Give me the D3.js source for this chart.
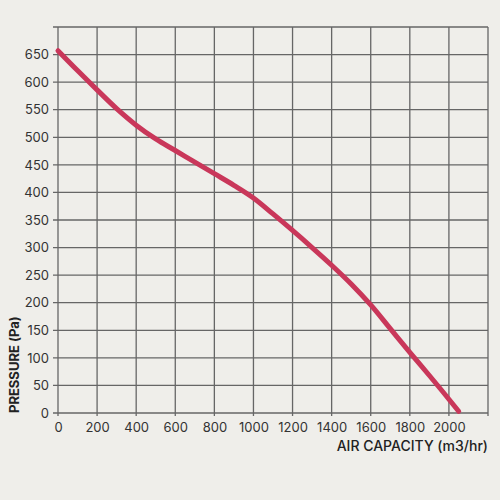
<!DOCTYPE html>
<html>
<head>
<meta charset="utf-8">
<script src="https://cdn.jsdelivr.net/npm/d3@7"></script>
<style>
  body { margin: 0; background: #efeeea; }
  svg { display: block; font-family: Inter, "Open Sans", sans-serif; }
</style>
</head>
<body>
<script>
var airCapacity = [0, 100, 200, 300, 400, 500, 600, 700, 800, 900, 1000, 1100, 1200, 1300, 1400, 1500, 1600, 1700, 1800, 1900, 2000, 2050];
var pressure = [657, 621, 586, 552, 522, 497, 476, 455, 434, 413, 390, 361, 331, 300, 268, 234, 196, 153, 110, 68, 25, 3];
var xTicks = [0, 200, 400, 600, 800, 1000, 1200, 1400, 1600, 1800, 2000];
var yTicks = [0, 50, 100, 150, 200, 250, 300, 350, 400, 450, 500, 550, 600, 650];

var margin = {left: 58, top: 27, right: 12, bottom: 87};
var width = 500 - margin.left - margin.right,
	height = 500 - margin.top - margin.bottom;

var svg = d3.select("body")
		.append("svg")
		.attr("width", 500)
		.attr("height", 500);

var g = svg.append("g")
		.attr("transform", "translate(" + margin.left + "," + margin.top + ")");

var x = d3.scaleLinear().domain([0, 2200]).range([0, width]);
var y = d3.scaleLinear().domain([0, 700]).range([height, 0]);

// grid
g.append("g")
		.selectAll("line")
		.data(x.ticks(11))
		.enter().append("line")
		.attr("x1", function(d) { return x(d); })
		.attr("x2", function(d) { return x(d); })
		.attr("y1", 0)
		.attr("y2", height + 3)
		.attr("stroke", "#666")
		.attr("stroke-width", 1.3);

g.append("g")
		.selectAll("line")
		.data(d3.range(0, 750, 50))
		.enter().append("line")
		.attr("x1", -5)
		.attr("x2", width)
		.attr("y1", function(d) { return y(d); })
		.attr("y2", function(d) { return y(d); })
		.attr("stroke", "#666")
		.attr("stroke-width", 1.3);

// tick labels via axes
var xAxis = g.append("g")
		.attr("transform", "translate(0," + height + ")")
		.call(d3.axisBottom(x).tickValues(xTicks).tickFormat(d3.format("d")).tickSize(0).tickPadding(10));
var yAxis = g.append("g")
		.call(d3.axisLeft(y).tickValues(yTicks).tickFormat(d3.format("d")).tickSize(0).tickPadding(9));

[xAxis, yAxis].forEach(function(a) {
	a.select(".domain").remove();
	a.selectAll("text")
		.attr("font-family", "Inter, 'Open Sans', sans-serif")
		.attr("font-size", 13)
		.attr("fill", "#333");
});

// curve
var line = d3.line()
		.x(function(d, i) { return x(airCapacity[i]); })
		.y(function(d) { return y(d); })
		.curve(d3.curveMonotoneX);

g.append("path")
		.datum(pressure)
		.attr("d", line)
		.attr("fill", "none")
		.attr("stroke", "#c9375a")
		.attr("stroke-width", 5)
		.attr("stroke-linecap", "round");

// axis titles
svg.append("text")
		.attr("x", margin.left + width)
		.attr("y", 451)
		.attr("text-anchor", "end")
		.attr("font-size", 14)
		.attr("font-weight", 500)
		.attr("fill", "#222")
		.text("AIR CAPACITY (m3/hr)");

svg.append("text")
		.attr("transform", "translate(19," + (margin.top + height) + ") rotate(-90)")
		.attr("text-anchor", "start")
		.attr("font-size", 13)
		.attr("font-weight", 700)
		.attr("fill", "#222")
		.text("PRESSURE (Pa)");
</script>
</body>
</html>
